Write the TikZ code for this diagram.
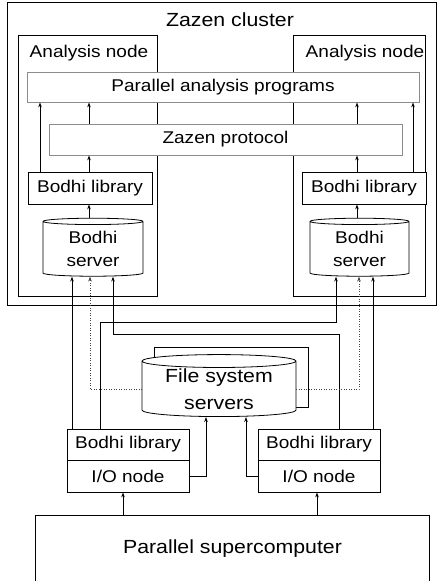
\documentclass[tikz,border=0pt]{standalone}
\usepackage{fontspec}
\setmainfont{Liberation Sans}[FakeStretch=1.12]
\usetikzlibrary{shapes.geometric,arrows.meta}
\newcommand\nfs{\fontsize{17}{23}\selectfont}
\newcommand\lfs{\fontsize{19}{27}\selectfont}
\begin{document}
\begin{tikzpicture}[x=1pt,y=-1pt,
  box/.style={draw, line width=0.8pt, fill=white, inner sep=0pt, font=\nfs},
  gbox/.style={draw=black!45, line width=0.8pt, fill=white, inner sep=0pt, font=\nfs},
  cyl/.style={cylinder, shape border rotate=90, draw, line width=0.8pt, fill=white, inner sep=0pt, align=center, aspect=0.12},
  lbl/.style={inner sep=0pt, font=\nfs},
  arr/.style={line width=0.8pt, -{Stealth[length=5pt,width=3.5pt]}},
  darr/.style={line width=0.5pt, black!75, dotted, -{Stealth[length=5pt,width=3.5pt]}},
]
\useasboundingbox (0,0) rectangle (437,581);
% cluster
\node[box, minimum width=429pt, minimum height=303pt] (cluster) at (221.5,153.5) {};
\node[lbl, font=\lfs] (clusterlbl) at (230,20) {Zazen cluster};
\node[box, minimum width=139pt, minimum height=261pt] (anL) at (87.5,165.5) {};
\node[box, minimum width=132pt, minimum height=261pt] (anR) at (359,165.5) {};
\node[lbl] (anLlbl) at (89,53) {Analysis node};
\node[lbl] (anRlbl) at (365,53) {Analysis node};
\node[gbox, minimum width=392pt, minimum height=30pt] (pap) at (223,87) {Parallel analysis programs};
\node[gbox, minimum width=353pt, minimum height=31pt] (zp) at (225.5,139.5) {Zazen protocol};
\node[box, minimum width=124pt, minimum height=32pt] (blL) at (90,188) {Bodhi library};
\node[box, minimum width=124pt, minimum height=32pt] (blR) at (364,188) {Bodhi library};
\node[cyl, font=\nfs, minimum width=100pt, minimum height=58pt] (bsL) at (93,249) {Bodhi\\server};
\node[cyl, font=\nfs, minimum width=99pt, minimum height=58pt] (bsR) at (359.5,249) {Bodhi\\server};
% file system servers
\node[cyl, minimum width=154pt, minimum height=60pt] (fsB) at (231,378) {};
\node[cyl, font=\lfs, minimum width=154pt, minimum height=62pt] (fsF) at (219,389) {File system\\servers};
% io nodes
\node[box, minimum width=122pt, minimum height=31pt] (blL2) at (128,444.5) {Bodhi library};
\node[box, minimum width=122pt, minimum height=32pt] (ioL) at (128,476) {I/O node};
\node[box, minimum width=122pt, minimum height=31pt] (blR2) at (319,444.5) {Bodhi library};
\node[box, minimum width=122pt, minimum height=32pt] (ioR) at (319,476) {I/O node};
% supercomputer
\node[inner sep=0pt, minimum width=393pt, minimum height=65pt, font=\lfs] (sc) at (232.5,548.5) {Parallel supercomputer};
\draw[line width=0.8pt] (sc.south west) -- (sc.north west) -- (sc.north east) -- (sc.south east);
% column coordinates
\coordinate (x40) at (40,0);
\coordinate (x89) at (89,0);
\coordinate (x357) at (357,0);
\coordinate (x413) at (413,0);
\coordinate (x72) at (72,0);
\coordinate (x90) at (90,0);
\coordinate (x113) at (113,0);
\coordinate (x336) at (336,0);
\coordinate (x359) at (359,0);
\coordinate (x373) at (373,0);
\coordinate (x100) at (100,0);
\coordinate (x339) at (339,0);
\coordinate (x206) at (206,0);
\coordinate (x246) at (246,0);
\coordinate (x123) at (123,0);
\coordinate (x317) at (317,0);
\coordinate (t1) at (113,334);
\coordinate (t2) at (336,322);
% arrows inside cluster
\draw[arr] (x40 |- blL.north) -- (x40 |- pap.south);
\draw[arr] (x89 |- blL.north) -- (x89 |- zp.south);
\draw[arr] (x89 |- zp.north) -- (x89 |- pap.south);
\draw[arr] (x357 |- blR.north) -- (x357 |- zp.south);
\draw[arr] (x357 |- zp.north) -- (x357 |- pap.south);
\draw[arr] (x413 |- blR.north) -- (x413 |- pap.south);
\draw[arr] (x89 |- bsL.north) -- (x89 |- blL.south);
\draw[arr] (x357 |- bsR.north) -- (x357 |- blR.south);
% connectors to servers
\draw[arr] (x72 |- blL2.north) -- (x72 |- bsL.south);
\draw[darr] (fsF.west) -| (x90 |- bsL.south);
\draw[arr] (x339 |- blR2.north) |- (t1) -- (x113 |- bsL.south);
\draw[arr] (x100 |- blL2.north) |- (t2) -- (x336 |- bsR.south);
\draw[darr] (fsF.east) -| (x359 |- bsR.south);
\draw[arr] (x373 |- blR2.north) -- (x373 |- bsR.south);
\draw[arr] (ioL.east) -| (x206 |- fsF.south);
\draw[arr] (ioR.west) -| (x246 |- fsF.south);
\draw[arr] (x123 |- sc.north) -- (x123 |- ioL.south);
\draw[arr] (x317 |- sc.north) -- (x317 |- ioR.south);
\end{tikzpicture}
\end{document}
